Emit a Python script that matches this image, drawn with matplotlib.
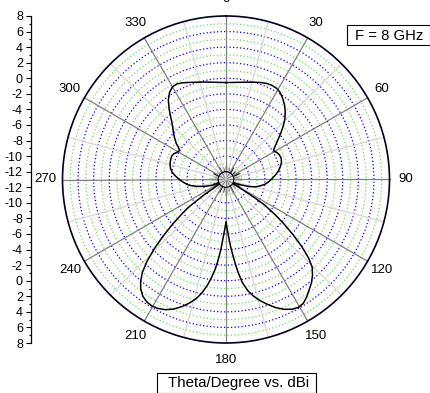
import numpy as np
import matplotlib.pyplot as plt
from matplotlib.patches import Rectangle

plt.rcParams['font.family'] = ['Liberation Sans', 'DejaVu Sans']

# Radiation pattern at 8 GHz: theta in degrees (clockwise from top), gain in dBi
theta_deg = [0, 4, 8, 12, 16, 20, 23, 26, 29, 32, 35, 38, 41, 44, 47, 50,
             53, 56, 58, 60, 62, 65, 69, 73, 77, 81, 85, 89, 93, 97, 101,
             104, 107, 110, 112, 114,
             120.5, 121.5, 122.5, 123.5, 125.5, 127.5, 129.5, 131.5, 133.5,
             135.5, 138, 140.5, 143, 145.5, 148, 150.5, 153, 156, 159, 162,
             164.5, 167, 169, 171, 172.5, 174, 175, 176, 177, 178, 179,
             180, 181, 182, 183, 184, 185, 186, 187, 188.5, 190, 192, 194,
             196.5, 199, 202, 205, 208, 210.5, 213, 215.5, 218, 220, 222,
             224, 226, 228, 230, 232, 233.5, 235, 236.5,
             244, 245.5, 248, 251, 254, 257, 260, 263, 266, 269, 272, 275,
             278, 281, 284, 287, 290, 293, 296, 299, 301.5, 303.5, 306, 309,
             312, 315, 318, 321, 324, 327, 330, 333, 336, 340, 344, 348,
             352, 356, 360]
gain_dbi = [-0.55, -0.5, -0.38, -0.22, 0.0, 0.25, 0.4, 0.45, 0.4, 0.15,
            -0.3, -0.8, -1.4, -2.1, -2.95, -3.85, -4.7, -5.4, -5.8, -5.8,
            -5.6, -5.45, -5.4, -5.55, -5.85, -6.2, -6.65, -7.1, -7.5, -7.95,
            -8.6, -9.1, -9.9, -11.0, -11.6, -12.8,
            -12.8, -10.5, -8.6, -7.0, -5.3, -3.6, -1.8, 0.0, 1.6,
            2.8, 3.6, 4.25, 4.75, 5.3, 5.75, 5.87, 5.7, 5.25, 4.6, 3.8,
            3.1, 2.3, 1.5, 0.4, -0.9, -2.4, -3.4, -4.3, -5.3, -6.2, -6.9,
            -7.58, -6.9, -6.2, -5.3, -4.2, -3.2, -2.2, -1.3, -0.2, 0.8, 1.9,
            2.75, 3.55, 4.25, 4.95, 5.45, 5.75, 5.82, 5.72, 5.4, 4.8, 4.05,
            3.05, 1.6, -0.2, -2.1, -4.0, -5.8, -7.0, -9.6, -12.8,
            -12.8, -11.6, -11.0, -10.4, -9.8, -9.1, -8.45, -7.95, -7.55,
            -7.15, -6.75, -6.35, -6.0, -5.75, -5.6, -5.5, -5.45, -5.4, -5.5,
            -5.8, -5.97, -5.75, -5.1, -4.5, -3.9, -3.3, -2.45, -1.4, -0.4,
            0.32, 0.75, 0.8, 0.6, 0.28, 0.0, -0.2, -0.38, -0.5, -0.55]

# Radial scale (dBi) and angular ticks
r_min, r_max, r_origin = -12, 8, -13
angle_ticks = list(range(0, 360, 30))
angle_labels = [str(a) for a in angle_ticks]
scale_values = [8, 6, 4, 2, 0, -2, -4, -6, -8, -10, -12]

fig = plt.figure(figsize=(4.31, 3.93), dpi=100)

# Polar axes
ax = fig.add_axes([62.5 / 431, 1 - 343 / 393, 327 / 431, 327 / 393],
                  projection='polar')
ax.set_theta_zero_location('N')
ax.set_theta_direction(-1)
ax.set_rorigin(r_origin)
ax.set_ylim(r_min, r_max)
ax.grid(False)
ax.set_yticks([])

# Circles: blue on even dB, green on odd dB
ring = np.linspace(0, 2 * np.pi, 361)
for v in range(r_min, r_max):
    color = '#0000ff' if v % 2 == 0 else '#66dd66'
    ax.plot(ring, np.full_like(ring, v), color=color, lw=0.9,
            ls=(0, (1, 1.8)), zorder=1)

# Spokes every 15 degrees
for a in range(0, 360, 15):
    color = '#808080' if a % 30 == 0 else '#d6d6d6'
    ax.plot([np.radians(a)] * 2, [r_origin, r_max], color=color, lw=0.9,
            zorder=2, clip_on=False)

ax.plot(np.radians(theta_deg), gain_dbi, color='black', lw=1.1, zorder=5)

ax.set_xticks(np.radians(angle_ticks))
ax.set_xticklabels(angle_labels, fontsize=9.5)
ax.set_xticks(np.radians(range(15, 360, 30)), minor=True)
ax.tick_params(axis='x', which='both', tick1On=True, tick2On=False,
               direction='in', color='black')
ax.tick_params(axis='x', which='major', length=5, width=1, pad=5)
ax.tick_params(axis='x', which='minor', length=3.5, width=0.8)
ax.spines['polar'].set_linewidth(1.2)
ax.spines['polar'].set_color('#000022')
ax.spines['inner'].set_visible(False)

# Linear dBi scale on the left
hole = (r_min - r_origin) / (r_max - r_origin)


def scale_pos(v):
    return hole + (1 - hole) * (v - r_min) / (r_max - r_min)


lax = fig.add_axes([31 / 431, 1 - 343 / 393, 0.01, 327 / 393])
lax.set_ylim(-1, 1)
lax.set_xticks([])
for side in ['right', 'top', 'bottom']:
    lax.spines[side].set_visible(False)
lax.spines['left'].set_linewidth(0.9)
lax.patch.set_visible(False)
major_pos = [scale_pos(v) for v in scale_values] + \
    [-scale_pos(v) for v in scale_values[::-1]]
major_lab = [str(v) for v in scale_values] + \
    [str(v) for v in scale_values[::-1]]
lax.set_yticks(major_pos)
lax.set_yticklabels(major_lab, fontsize=9)
minor_vals = list(range(r_min + 1, r_max, 2))
lax.set_yticks([scale_pos(v) for v in minor_vals] +
               [-scale_pos(v) for v in minor_vals], minor=True)
lax.tick_params(axis='y', which='major', length=3.3, width=0.8, pad=2.5)
lax.tick_params(axis='y', which='minor', length=1.8, width=0.8)

# Boxed labels
fig.text(389 / 431, 1 - 40 / 393, 'F = 8 GHz', ha='center', va='baseline',
         fontsize=10.7)
fig.add_artist(Rectangle((347 / 431, 1 - 45 / 393), 83 / 431, 20 / 393,
                         transform=fig.transFigure, fill=False, lw=0.8,
                         ec='black'))
fig.text(239 / 431, 1 - 387.3 / 393, 'Theta/Degree vs. dBi', ha='center',
         va='baseline', fontsize=10.8)
fig.add_artist(Rectangle((157.5 / 431, 1 - 392.5 / 393), 158 / 431, 20 / 393,
                         transform=fig.transFigure, fill=False, lw=0.8,
                         ec='black'))

fig.savefig('out.png', dpi=100)
